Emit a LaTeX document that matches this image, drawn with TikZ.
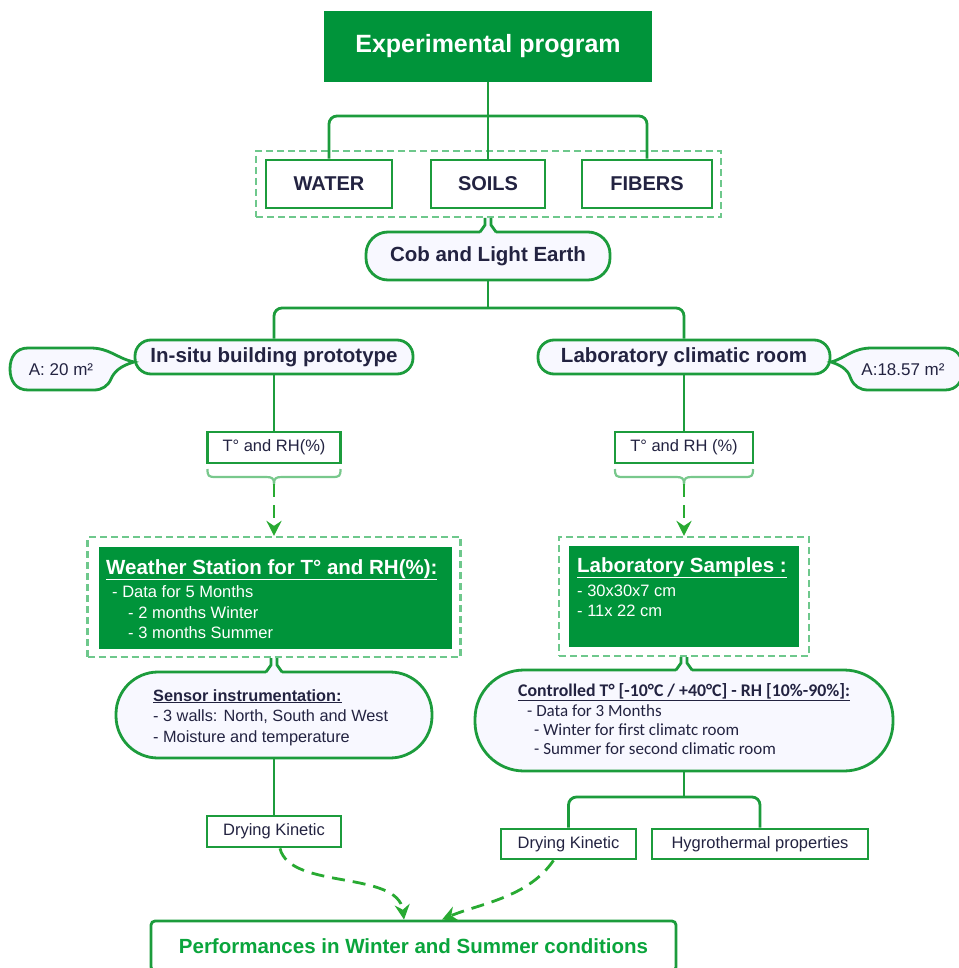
\documentclass[tikz,border=0pt]{standalone}
\usepackage{fontspec}
\setmainfont{Liberation Sans}
\newfontfamily\calib{Carlito}
\usetikzlibrary{arrows.meta}
\definecolor{mainG}{RGB}{0,148,58}
\definecolor{lineG}{RGB}{28,156,60}
\definecolor{dashG}{RGB}{110,200,140}
\definecolor{arrG}{RGB}{40,170,50}
\definecolor{braceG}{RGB}{120,200,140}
\definecolor{txt}{RGB}{35,35,65}
\definecolor{fillL}{RGB}{248,248,255}
\definecolor{perfG}{RGB}{10,165,60}
\newcommand{\fs}[1]{\fontsize{#1}{#1}\selectfont}
\newcommand{\notchup}[3]{%
  \fill[fillL] (#1-8,#2+1.8) -- (#1-3,#2-7) -- (#1-3,#3) -- (#1+3,#3) -- (#1+3,#2-7) -- (#1+8,#2+1.8) -- cycle;
  \draw[boxline] (#1-8,#2) -- (#1-3,#2-7) -- (#1-3,#3);
  \draw[boxline] (#1+8,#2) -- (#1+3,#2-7) -- (#1+3,#3);}
\newcommand{\bracedown}[3]{% left, right, y of ends
  \draw[bracest] (#1,#3) .. controls (#1,#3+7) and (#1+1,#3+8) .. (#1+8,#3+8)
    -- ({(#1+#2)/2-8},#3+8) .. controls ({(#1+#2)/2-2},#3+8) and ({(#1+#2)/2},#3+9) .. ({(#1+#2)/2},#3+15)
    .. controls ({(#1+#2)/2},#3+9) and ({(#1+#2)/2+2},#3+8) .. ({(#1+#2)/2+8},#3+8)
    -- (#2-8,#3+8) .. controls (#2-1,#3+8) and (#2,#3+7) .. (#2,#3);}
\begin{document}
\begin{tikzpicture}[x=1pt,y=-1pt,
  boxline/.style={draw=lineG,line width=2.8pt},
  sqbox/.style={boxline,fill=white,rectangle,inner sep=0pt,text=txt},
  rbox/.style={boxline,fill=fillL,rectangle,inner sep=0pt,text=txt},
  greenbox/.style={rectangle,fill=mainG,inner sep=0pt},
  dashbox/.style={rectangle,draw=dashG,line width=2.2pt,dash pattern=on 7pt off 4pt,inner sep=0pt},
  conn/.style={draw=lineG,line width=2.8pt},
  bracest/.style={draw=braceG,line width=2.2pt},
  darr/.style={draw=arrG,line width=2.8pt,dash pattern=on 13pt off 8pt,-{Stealth[length=15pt,width=15pt,inset=5pt]}},
  lbl/.style={anchor=base west,inner sep=0pt},
]
\useasboundingbox (0,0) rectangle (958,968);
\fill[white] (0,0) rectangle (958,968);

% top
\node[greenbox,minimum width=328pt,minimum height=71pt,text=white,font=\bfseries\fs{25}] (main) at (488,46.5) {Experimental program};
\node[dashbox,minimum width=465pt,minimum height=66pt] (grp) at (488.5,184) {};
\node[sqbox,minimum width=126pt,minimum height=48pt,font=\bfseries\fs{20}] (water) at (329,184) {WATER};
\node[sqbox,minimum width=114pt,minimum height=48pt,font=\bfseries\fs{20}] (soils) at (488,184) {SOILS};
\node[sqbox,minimum width=130pt,minimum height=48pt,font=\bfseries\fs{20}] (fibers) at (647,184) {FIBERS};
\coordinate (j1) at (488,116);
\draw[conn] (main.south) -- (soils.north);
\draw[conn,rounded corners=8pt] (water.north) |- (j1) -| (fibers.north);

\node[rbox,rounded corners=22pt,minimum width=244pt,minimum height=48pt,font=\bfseries\fs{20.5}] (cob) at (488,256) {Cob and Light Earth};
\notchup{488}{232}{218}

\coordinate (j2) at (488,308);
\node[rbox,rounded corners=16pt,minimum width=278pt,minimum height=34pt,font=\bfseries\fs{20.5}] (insitu) at (274,357) {In-situ building prototype};
\node[rbox,rounded corners=16pt,minimum width=292pt,minimum height=34pt,font=\bfseries\fs{20.5}] (labroom) at (684,357) {Laboratory climatic room};
\draw[conn] (cob.south) -- (j2);
\draw[conn,rounded corners=8pt] (insitu.north) |- (j2) -| (labroom.north);

% area callouts
\filldraw[boxline,fill=fillL] (28,348) -- (90,348) .. controls (110,348) and (116,358) .. (134,362)
  .. controls (120,366) and (114,372) .. (111,379) .. controls (108,386) and (102,390) .. (94,390)
  -- (28,390) .. controls (16,390) and (10,381) .. (10,369) .. controls (10,357) and (16,348) .. (28,348) -- cycle;
\node[inner sep=0pt,text=txt,font=\fs{17}] (a1) at (61,370) {A: 20 m²};
\filldraw[boxline,fill=fillL] (945,348) -- (872,348) .. controls (852,348) and (846,358) .. (831,362)
  .. controls (844,366) and (849,372) .. (851,379) .. controls (854,386) and (860,390) .. (868,390)
  -- (945,390) .. controls (957,390) and (963,381) .. (963,369) .. controls (963,357) and (957,348) .. (945,348) -- cycle;
\node[inner sep=0pt,text=txt,font=\fs{17}] (a2) at (903,370) {A:18.57 m²};

% T and RH
\node[sqbox,minimum width=133pt,minimum height=31pt,font=\fs{16.5}] (t1) at (274,447.5) {T° and RH(\%)};
\node[sqbox,minimum width=138pt,minimum height=31pt,font=\fs{16.5}] (t2) at (684,447.5) {T° and RH (\%)};
\draw[conn] (insitu.south) -- (t1.north);
\draw[conn] (labroom.south) -- (t2.north);
\bracedown{207.5}{340.5}{469}
\bracedown{615}{753}{469}
\coordinate (b1) at (274,484);
\coordinate (b2) at (684,484);

% weather station
\node[dashbox,minimum width=373pt,minimum height=120pt] (wsO) at (274,597) {};
\node[greenbox,minimum width=353pt,minimum height=102pt] (ws) at (275.5,598) {};
\node[lbl,text=white,font=\bfseries\fs{20.5}] (wst) at (106,574) {\underline{Weather Station for T° and RH(\%):}};
\node[lbl,text=white,font=\fs{16.5}] (ws1) at (112,597) {- Data for 5 Months};
\node[lbl,text=white,font=\fs{16.5}] (ws2) at (128,618) {- 2 months Winter};
\node[lbl,text=white,font=\fs{16.5}] (ws3) at (128,638) {- 3 months Summer};

% lab samples
\node[dashbox,minimum width=250pt,minimum height=119pt] (labO) at (684,596.5) {};
\node[greenbox,minimum width=230pt,minimum height=101pt] (lab) at (684,596.5) {};
\node[lbl,text=white,font=\bfseries\fs{20.5}] (labt) at (577,572) {\underline{Laboratory Samples :}};
\node[lbl,text=white,font=\fs{16.5}] (lab1) at (577,596) {- 30x30x7 cm};
\node[lbl,text=white,font=\fs{16.5}] (lab2) at (577,616) {- 11x 22 cm};

\draw[darr] (b1) -- (wsO.north);
\draw[darr] (b2) -- (labO.north);

% sensor
\node[rbox,rounded corners=42pt,minimum width=316pt,minimum height=86pt] (sensor) at (274,715) {};
\notchup{274}{672}{658}
\node[lbl,text=txt,font=\bfseries\fs{16.3}] (s0) at (153,701) {\underline{Sensor instrumentation:}};
\node[lbl,text=txt,font=\fs{16.3}] (s1) at (153,721) {- 3 walls: North, South and West};
\node[lbl,text=txt,font=\fs{16.3}] (s2) at (153,742) {- Moisture and temperature};

% controlled
\node[rbox,rounded corners=49pt,minimum width=418pt,minimum height=101pt] (ctrl) at (684,720.5) {};
\notchup{684}{670}{657}
\node[lbl,text=txt,font=\calib\bfseries\fs{17.8}] (c0) at (518,696) {\underline{Controlled T° [-10°C / +40°C] - RH [10\%-90\%]:}};
\node[lbl,text=txt,font=\calib\fs{17}] (c1) at (527,716) {- Data for 3 Months};
\node[lbl,text=txt,font=\calib\fs{17}] (c2) at (534,735) {- Winter for first climatc room};
\node[lbl,text=txt,font=\calib\fs{17}] (c3) at (534,754) {- Summer for second climatic room};

% bottom
\node[sqbox,minimum width=134pt,minimum height=31pt,font=\fs{16.5}] (dk1) at (274,831.5) {Drying Kinetic};
\draw[conn] (sensor.south) -- (dk1.north);
\coordinate (j3) at (684,797);
\node[sqbox,minimum width=135pt,minimum height=30pt,font=\fs{16.5}] (dk2) at (568.5,844) {Drying Kinetic};
\node[sqbox,minimum width=216pt,minimum height=30pt,font=\fs{16.5}] (hyg) at (760,844) {Hygrothermal properties};
\draw[conn] (ctrl.south) -- (j3);
\draw[conn,rounded corners=8pt] (dk2.north) |- (j3) -| (hyg.north);

\node[sqbox,rounded corners=4pt,minimum width=525pt,minimum height=50pt,text=perfG,font=\bfseries\fs{20.5}] (perf) at (413.5,946) {Performances in Winter and Summer conditions};

\draw[darr] ([xshift=6pt]dk1.south) .. controls (290,890) and (398,870) .. ([xshift=-9.5pt]perf.north);
\draw[darr] ([xshift=-15pt]dk2.south) .. controls (528,898) and (478,904) .. ([xshift=28.5pt]perf.north);
\end{tikzpicture}
\end{document}
